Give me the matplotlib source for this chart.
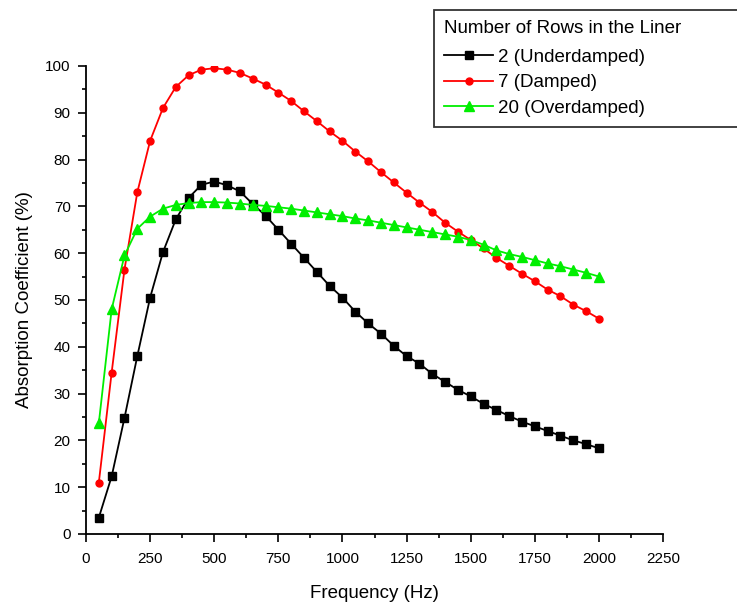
import numpy as np
import matplotlib
matplotlib.use('Agg')
import matplotlib.pyplot as plt
from matplotlib.ticker import MultipleLocator

plt.rcParams['font.family'] = ['Liberation Sans', 'DejaVu Sans']

freq = np.arange(50, 2001, 50)

rows2 = [3.5, 12.3, 24.8, 38.0, 50.5, 60.2, 67.2, 71.8, 74.6, 75.3,
         74.5, 73.2, 70.5, 68.0, 65.0, 62.0, 59.0, 56.0, 53.0, 50.5,
         47.5, 45.0, 42.8, 40.2, 38.0, 36.4, 34.2, 32.5, 30.8, 29.4,
         27.8, 26.5, 25.2, 24.0, 23.0, 22.0, 21.0, 20.0, 19.2, 18.3]
rows7 = [11.0, 34.5, 56.5, 73.0, 84.0, 91.0, 95.5, 98.0, 99.2, 99.5,
         99.2, 98.5, 97.3, 96.0, 94.3, 92.5, 90.3, 88.2, 86.0, 84.0,
         81.7, 79.6, 77.3, 75.1, 72.9, 70.8, 68.8, 66.5, 64.6, 62.8,
         61.0, 59.0, 57.3, 55.6, 54.0, 52.2, 50.8, 49.0, 47.6, 46.0]
rows20 = [23.7, 48.0, 59.5, 65.2, 67.8, 69.5, 70.3, 70.7, 70.9, 70.9,
          70.8, 70.6, 70.3, 70.1, 69.8, 69.5, 69.1, 68.7, 68.3, 67.9,
          67.4, 67.0, 66.5, 66.0, 65.5, 65.0, 64.5, 64.0, 63.5, 62.8,
          61.8, 60.6, 59.8, 59.2, 58.5, 57.8, 57.2, 56.5, 55.8, 55.0]

labels = ['2 (Underdamped)', '7 (Damped)', '20 (Overdamped)']

fig = plt.figure(figsize=(7.37, 6.04), dpi=100)
ax = fig.add_axes([0.1167, 0.1159, 0.783, 0.775])

ax.plot(freq, rows2, color='black', marker='s', ms=5.5, lw=1.3, label=labels[0])
ax.plot(freq, rows7, color='red', marker='o', ms=5, lw=1.3, label=labels[1])
ax.plot(freq, rows20, color='#00ee00', marker='^', ms=7, lw=1.3, label=labels[2])

ax.set_xlim(0, 2250)
ax.set_ylim(0, 100)
ax.xaxis.set_major_locator(MultipleLocator(250))
ax.xaxis.set_minor_locator(MultipleLocator(125))
ax.yaxis.set_major_locator(MultipleLocator(10))
ax.yaxis.set_minor_locator(MultipleLocator(5))
ax.tick_params(which='major', direction='out', length=6, width=1.2, labelsize=11)
ax.tick_params(which='minor', direction='out', length=3, width=1.2)
ax.tick_params(axis='x', which='major', pad=7)
ax.tick_params(axis='y', which='major', pad=5)
for s in ['top', 'right']:
    ax.spines[s].set_visible(False)
for s in ['left', 'bottom']:
    ax.spines[s].set_linewidth(1.3)

ax.set_xlabel('Frequency (Hz)', fontsize=13.5, labelpad=14)
ax.set_ylabel('Absorption Coefficient (%)', fontsize=13.5, labelpad=9)

# legend runs off the right edge, as in the source figure
leg = fig.legend(loc='upper left', bbox_to_anchor=(434/737, 1 - 10/604, 0.5, 0),
                 mode='expand', title='Number of Rows in the Liner',
                 fontsize=13.5, title_fontsize=13.5, frameon=True, fancybox=False,
                 handlelength=2.6, handletextpad=0.25, borderpad=0.55,
                 labelspacing=0.45, borderaxespad=0)
leg._legend_box.align = 'left'
leg._legend_box.sep = 8
leg.get_frame().set_edgecolor('black')
leg.get_frame().set_linewidth(1.3)

fig.savefig('out.png', dpi=100)
